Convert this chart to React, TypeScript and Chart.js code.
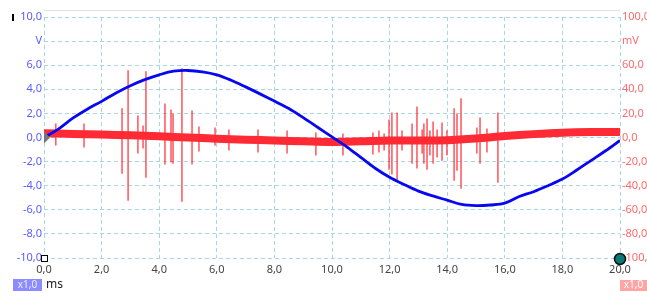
import React, { useEffect, useRef } from "react";
import { Chart, registerables } from "chart.js";

Chart.register(...registerables);

// Voltage channel (V) sampled every 0.5 ms
const timeMs = [0, 0.5, 1, 1.5, 2, 2.5, 3, 3.5, 4, 4.5, 5, 5.5, 6, 6.5, 7, 7.5, 8, 8.5, 9, 9.5, 10, 10.5, 11, 11.5, 12, 12.5, 13, 13.5, 14, 14.5, 15, 15.5, 16, 16.5, 17, 17.5, 18, 18.5, 19, 19.5, 20];
const voltageV = [0, 0.7, 1.6, 2.35, 3.0, 3.7, 4.3, 4.8, 5.2, 5.5, 5.56, 5.45, 5.2, 4.75, 4.2, 3.62, 3.02, 2.4, 1.65, 0.85, 0.05, -0.75, -1.65, -2.55, -3.3, -3.9, -4.45, -4.85, -5.2, -5.55, -5.65, -5.6, -5.45, -4.9, -4.5, -4.0, -3.45, -2.7, -1.9, -1.1, -0.25];

// Current-sense channel (mV): baseline of the noise band, every 1 ms
const bandMs = [0, 1, 2, 3, 4, 5, 6, 7, 8, 9, 10, 11, 12, 13, 14, 15, 16, 17, 18, 19, 20];
const bandMv = [3.5, 3, 2.5, 1.8, 1, 0, -1, -1.8, -2.5, -3.2, -3.8, -3.2, -2.5, -2.5, -2.2, -0.8, 1.2, 2.8, 4, 4.5, 4.5];

// Spikes on the mV channel
const spikeMs = [0.41, 1.39, 2.71, 2.92, 3.26, 3.44, 3.54, 4.2, 4.41, 4.48, 4.79, 5.14, 5.38, 5.94, 6.42, 7.43, 8.44, 9.44, 10.38, 11.42, 11.63, 11.81, 11.98, 12.08, 12.26, 12.43, 12.78, 12.95, 13.13, 13.19, 13.3, 13.4, 13.51, 13.65, 13.82, 13.99, 14.24, 14.34, 14.48, 15.03, 15.14, 15.38, 15.76];
const spikeHighMv = [11.7, 11.7, 24.2, 55.8, 18.3, 10, 55, 28.3, 23.3, 20, 57.5, 22.5, 9.2, 8.3, 6.7, 6.7, 5.8, 4.2, 3.3, 4.2, 5.8, 3.3, 15, 20.8, 20.8, 5.8, 11.7, 25.8, 6.7, 11.7, 15.8, 5.8, 13.3, 6.7, 12.5, 5.8, 24.2, 20, 32.5, 8.3, 16.7, 7.5, 20.8];
const spikeLowMv = [-6.7, -8.3, -30, -52.5, -13.3, -9.2, -33.3, -22.5, -20.8, -21.7, -53.3, -22.5, -11.7, -6.7, -10.8, -12.5, -13.3, -15, -15, -14.2, -12.5, -10.8, -26.7, -30.8, -35.8, -10.8, -21.7, -25.8, -13.3, -21.7, -26.7, -15, -21.7, -16.7, -19.2, -15, -35.8, -27.5, -42.5, -13.3, -21.7, -12.5, -37.5];

const xTicksMin = 0;
const xTicksMax = 20;
const vMin = -10;
const vMax = 10;
const mvMin = -100;
const mvMax = 100;

const fmt = (v: number) => v.toFixed(1).replace(".", ",");
const FONT = "'Noto Sans', 'Open Sans', sans-serif";

const decorPlugin = {
  id: "decor",
  afterDraw(chart: any) {
    const ctx = chart.ctx;
    const xs = chart.scales.x;
    const yl = chart.scales.y;
    const ca = chart.chartArea;
    ctx.save();
    // top border line
    ctx.strokeStyle = "#e2e2e2";
    ctx.lineWidth = 1;
    ctx.beginPath();
    ctx.moveTo(ca.left, ca.top - 6.5);
    ctx.lineTo(ca.right, ca.top - 6.5);
    ctx.stroke();
    // small black marker near top-left
    ctx.fillStyle = "#000";
    ctx.fillRect(12, yl.getPixelForValue(vMax) - 3, 2, 7);
    // trigger triangle at (0, 0)
    const tx = xs.getPixelForValue(0);
    const ty = yl.getPixelForValue(0);
    ctx.fillStyle = "#777";
    ctx.beginPath();
    ctx.moveTo(tx, ty - 6);
    ctx.lineTo(tx + 6, ty);
    ctx.lineTo(tx, ty + 6);
    ctx.closePath();
    ctx.fill();
    // square cursor at (0, -10)
    const sx = xs.getPixelForValue(0);
    const sy = yl.getPixelForValue(vMin);
    ctx.fillStyle = "#fff";
    ctx.fillRect(sx - 2.5, sy - 2.5, 6, 6);
    ctx.strokeStyle = "#000";
    ctx.lineWidth = 1;
    ctx.strokeRect(sx - 2.5, sy - 2.5, 6, 6);
    // circle cursor at (20, bottom)
    const cx = xs.getPixelForValue(xTicksMax);
    ctx.beginPath();
    ctx.arc(cx, sy + 1, 5.5, 0, Math.PI * 2);
    ctx.fillStyle = "#0b7a76";
    ctx.fill();
    ctx.lineWidth = 1.5;
    ctx.strokeStyle = "#111";
    ctx.stroke();
    // bottom badges
    ctx.font = "10px " + FONT;
    ctx.textBaseline = "middle";
    ctx.fillStyle = "#8c8cff";
    ctx.fillRect(13, 279, 29, 12);
    ctx.fillStyle = "#eef";
    ctx.textAlign = "center";
    ctx.fillText("x1,0", 27.5, 285);
    ctx.fillStyle = "#ffa3a3";
    ctx.fillRect(620, 280, 27, 11);
    ctx.fillStyle = "#fff";
    ctx.fillText("x1,0", 633.5, 285.5);
    ctx.font = "12px " + FONT;
    ctx.fillStyle = "#222";
    ctx.textAlign = "left";
    ctx.fillText("ms", 46, 285);
    ctx.restore();
  },
};

export default function App() {
  const ref = useRef<HTMLCanvasElement>(null);
  useEffect(() => {
    if (!ref.current) return;
    const spikeData: any[] = [];
    spikeMs.forEach((x, i) => {
      spikeData.push({ x, y: spikeLowMv[i] }, { x, y: spikeHighMv[i] }, { x, y: null });
    });
    const grid = {
      color: "#a9d6e6",
      lineWidth: 1,
      drawTicks: false,
    };
    const chart = new Chart(ref.current, {
      type: "line",
      data: {
        datasets: [
          {
            label: "V",
            data: timeMs.map((x, i) => ({ x, y: voltageV[i] })),
            yAxisID: "y",
            borderColor: "#0808f0",
            borderWidth: 2.8,
            pointRadius: 0,
            tension: 0.35,
            order: 0,
          },
          {
            label: "mV band",
            data: bandMs.map((x, i) => ({ x, y: bandMv[i] })),
            yAxisID: "y2",
            borderColor: "rgb(255,42,52)",
            borderWidth: 8,
            pointRadius: 0,
            tension: 0.3,
            order: 1,
          },
          {
            label: "mV spikes",
            data: spikeData,
            yAxisID: "y2",
            borderColor: "rgba(255,40,50,0.75)",
            borderWidth: 1.6,
            pointRadius: 0,
            spanGaps: false,
            order: 2,
          },
        ],
      },
      options: {
        animation: false,
        responsive: false,
        maintainAspectRatio: false,
        layout: { padding: { top: 17, left: 0, right: 0, bottom: 0 } },
        plugins: { legend: { display: false }, tooltip: { enabled: false } },
        scales: {
          x: {
            type: "linear",
            min: xTicksMin,
            max: xTicksMax,
            border: { display: false, dash: [4, 3] },
            grid: grid,
            afterFit: (s: any) => { s.height = 42; },
            ticks: {
              stepSize: 2,
              autoSkip: false,
              maxRotation: 0,
              padding: 5,
              color: "#444",
              font: { family: FONT, size: 11 },
              callback: (v: any) => fmt(Number(v)),
            },
          },
          y: {
            type: "linear",
            position: "left",
            min: vMin,
            max: vMax,
            border: { display: false, dash: [4, 3] },
            grid: grid,
            afterFit: (s: any) => { s.width = 44; },
            ticks: {
              stepSize: 2,
              padding: 2,
              color: "#5a5aff",
              font: { family: FONT, size: 11 },
              callback: (v: any) => (Number(v) === 8 ? "V" : fmt(Number(v))),
            },
          },
          y2: {
            type: "linear",
            position: "right",
            min: mvMin,
            max: mvMax,
            border: { display: false },
            grid: { display: false, drawTicks: false },
            afterFit: (s: any) => { s.width = 27; },
            ticks: {
              stepSize: 20,
              padding: 2,
              color: "#ff6a6a",
              font: { family: FONT, size: 11 },
              callback: (v: any) => (Number(v) === 80 ? "mV" : fmt(Number(v))),
            },
          },
        },
      } as any,
      plugins: [decorPlugin],
    });
    return () => chart.destroy();
  }, []);
  return (
    <div style={{ position: "absolute", left: 0, top: 0, width: 647, height: 300, background: "#fff" }}>
      <canvas ref={ref} width={647} height={300} />
    </div>
  );
}
